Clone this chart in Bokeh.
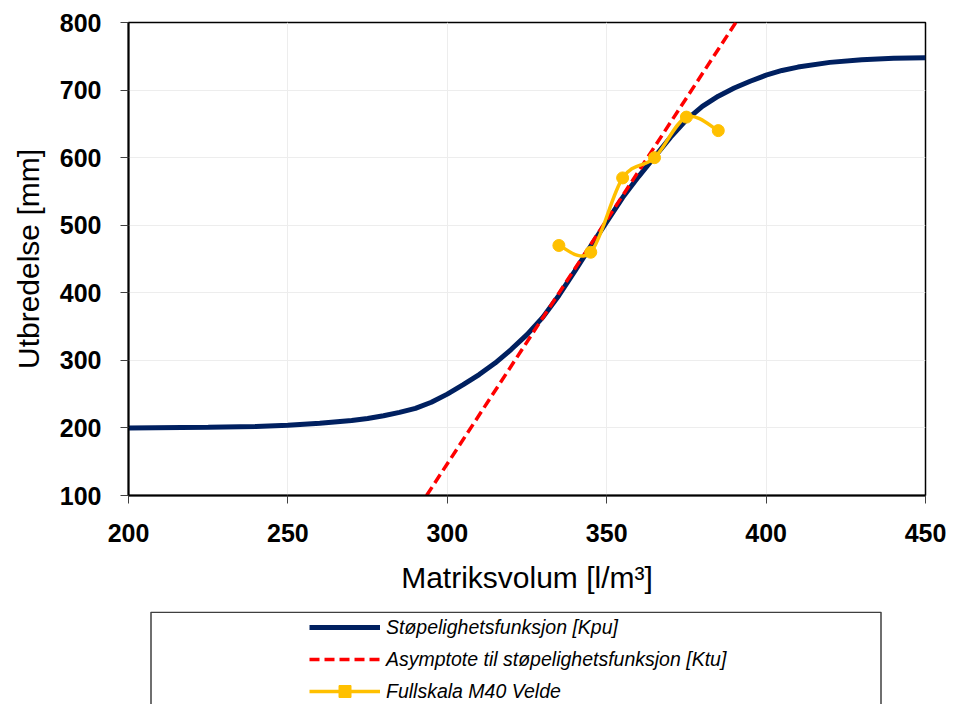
from bokeh.plotting import figure
from bokeh.models import Range1d, FixedTicker, Legend, LegendItem, ColumnDataSource
from bokeh.layouts import column
from bokeh.embed import file_html
from bokeh.resources import INLINE

# ---- data ----
kpu_x = [200, 225, 240, 250, 260, 270, 275, 280, 285, 290, 295, 300, 305, 310, 315, 320,
         325, 330, 335, 340, 345, 350, 355, 360, 365, 370, 375, 380, 385, 390, 395, 400,
         405, 410, 420, 430, 440, 450]
kpu_y = [200, 201, 202, 204, 207, 211, 214, 218, 223, 229, 238, 250, 264, 279, 296, 316,
         338, 364, 396, 432, 469, 505, 541, 572, 601, 630, 656, 676, 691, 703, 713, 722,
         729, 734, 741, 745, 747, 748]

ktu_x = [293.5, 390.5]
ktu_y = [100, 800]

velde_x = [335, 345, 355, 365, 375, 385]
velde_y = [470, 460, 570, 600, 660, 640]

x_ticks = [200, 250, 300, 350, 400, 450]
y_ticks = [100, 200, 300, 400, 500, 600, 700, 800]

labels = ["Støpelighetsfunksjon [Kpu]",
          "Asymptote til støpelighetsfunksjon [Ktu]",
          "Fullskala M40 Velde"]

FONT = "Liberation Sans"
BLUE = "#002060"
RED = "#FF0000"
YEL = "#FFC000"

W = 955
LEFT, RIGHT = 128, 30

# ---- main chart ----
p = figure(width=W, height=611, x_range=Range1d(200, 450), y_range=Range1d(100, 800),
           output_backend="svg", toolbar_location=None,
           min_border_left=LEFT, min_border_right=RIGHT, min_border_top=22, min_border_bottom=116)
p.outline_line_color = "black"
p.outline_line_width = 1.5

p.xaxis.ticker = FixedTicker(ticks=x_ticks)
p.yaxis.ticker = FixedTicker(ticks=y_ticks)
for ax in (p.xaxis[0], p.yaxis[0]):
    ax.axis_line_color = "black"
    ax.axis_line_width = 2
    ax.major_tick_in = 0
    ax.major_tick_out = 8
    ax.major_tick_line_color = "#404040"
    ax.major_tick_line_width = 1
    ax.minor_tick_in = 0
    ax.minor_tick_out = 0
    ax.major_label_text_font = FONT
    ax.major_label_text_font_style = "bold"
    ax.major_label_text_font_size = "25px"
    ax.major_label_text_color = "black"
    ax.axis_label_text_font = FONT
    ax.axis_label_text_font_style = "normal"
    ax.axis_label_text_font_size = "30px"
    ax.axis_label_text_color = "black"

p.xaxis.axis_label = "Matriksvolum [l/m³]"
p.yaxis.axis_label = "Utbredelse [mm]"
p.xaxis.major_label_standoff = 20
p.yaxis.major_label_standoff = 19
p.xaxis.axis_label_standoff = 16
p.yaxis.axis_label_standoff = 12

p.xgrid.grid_line_color = "#EDEDED"
p.ygrid.grid_line_color = "#EDEDED"

p.line(kpu_x, kpu_y, line_color=BLUE, line_width=5)
p.line(ktu_x, ktu_y, line_color=RED, line_width=3.5, line_dash="10 5")

# smoothed connector (Catmull-Rom style Bezier segments through the measured points)
n = len(velde_x)
seg = dict(x0=[], y0=[], x1=[], y1=[], cx0=[], cy0=[], cx1=[], cy1=[])
for i in range(n - 1):
    pa = (velde_x[max(i - 1, 0)], velde_y[max(i - 1, 0)])
    pb = (velde_x[i], velde_y[i])
    pc = (velde_x[i + 1], velde_y[i + 1])
    pd = (velde_x[min(i + 2, n - 1)], velde_y[min(i + 2, n - 1)])
    seg["x0"].append(pb[0]); seg["y0"].append(pb[1])
    seg["x1"].append(pc[0]); seg["y1"].append(pc[1])
    seg["cx0"].append(pb[0] + (pc[0] - pa[0]) / 6.0)
    seg["cy0"].append(pb[1] + (pc[1] - pa[1]) / 6.0)
    seg["cx1"].append(pc[0] - (pd[0] - pb[0]) / 6.0)
    seg["cy1"].append(pc[1] - (pd[1] - pb[1]) / 6.0)
p.bezier(x0="x0", y0="y0", x1="x1", y1="y1", cx0="cx0", cy0="cy0", cx1="cx1", cy1="cy1",
         source=ColumnDataSource(seg), line_color=YEL, line_width=3.5)
p.scatter(velde_x, velde_y, marker="circle", size=12, fill_color=YEL, line_color=YEL)

# ---- legend panel below the chart (frame aligned with the chart's frame) ----
H2 = 93
p2 = figure(width=W, height=H2, x_range=Range1d(0, 1), y_range=Range1d(0, 1),
            output_backend="svg", toolbar_location=None,
            x_axis_location=None, y_axis_location=None,
            min_border_left=LEFT, min_border_right=RIGHT, min_border_top=0, min_border_bottom=0)
p2.grid.visible = False
p2.outline_line_color = None
FW = W - LEFT - RIGHT
bx0 = (150.5 - LEFT) / FW
bx1 = (880.5 - LEFT) / FW
by = 1 - 0.75 / H2
p2.line([bx0, bx0, bx1, bx1], [-0.1, by, by, -0.1], line_color="#3F3F3F", line_width=1.5)

# legend sample renderers (their data lies outside this panel's ranges, so only the legend shows them)
r1 = p2.line(kpu_x, kpu_y, line_color=BLUE, line_width=5)
r2 = p2.line(ktu_x, ktu_y, line_color=RED, line_width=3.5, line_dash="10 5")
r3a = p2.line(velde_x, velde_y, line_color=YEL, line_width=3.5)
r3b = p2.scatter(velde_x, velde_y, marker="square", size=12, fill_color=YEL, line_color=YEL)

legend = Legend(items=[LegendItem(label=labels[0], renderers=[r1]),
                       LegendItem(label=labels[1], renderers=[r2]),
                       LegendItem(label=labels[2], renderers=[r3a, r3b])],
                location=(309 - LEFT, -2), orientation="vertical",
                glyph_width=71, glyph_height=30, label_standoff=6, spacing=2,
                padding=0, margin=0, border_line_color=None, background_fill_alpha=0,
                label_text_font=FONT, label_text_font_style="italic",
                label_text_font_size="19.5px", label_text_color="black")
p2.add_layout(legend)

layout = column(p, p2, spacing=0)
open("out.html", "w").write(file_html(layout, INLINE))
